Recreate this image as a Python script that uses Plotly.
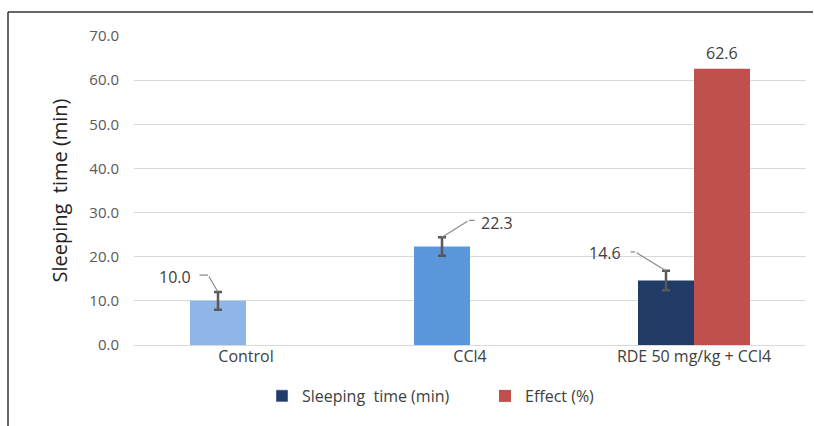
import plotly.graph_objects as go

categories = ["Control", "CCl4", "RDE 50 mg/kg + CCl4"]
sleep_values = [10.0, 22.3, 14.6]
sleep_errors = [2.0, 2.1, 2.2]
effect_values = [None, None, 62.6]
sleep_colors = ["#8EB6E6", "#5A97DA", "#1F3B66"]
effect_color = "#C0504D"
y_ticks = [0, 10, 20, 30, 40, 50, 60, 70]

FONT = "Open Sans"
TXT = "#404040"

fig = go.Figure()
fig.add_trace(go.Bar(
    x=categories, y=sleep_values, name="Sleeping\u00a0 time (min)",
    marker=dict(color=sleep_colors, line=dict(width=0)),
    error_y=dict(type="data", array=sleep_errors, visible=True,
                 color="#595959", thickness=2.5, width=4),
    offsetgroup="s", showlegend=False,
))
# legend entry for sleeping time (navy swatch)
fig.add_trace(go.Bar(
    x=[categories[0]], y=[None], name="Sleeping\u00a0 time (min)",
    marker=dict(color=sleep_colors[2]), offsetgroup="s", showlegend=True,
))
fig.add_trace(go.Bar(
    x=categories, y=effect_values, name="Effect (%)",
    marker=dict(color=effect_color, line=dict(width=0)),
    offsetgroup="e",
))

# value label above effect bar
for cat, v in zip(categories, effect_values):
    if v is not None:
        fig.add_annotation(x=cat, y=v, xref="x", yref="y", xshift=28, yshift=3,
                           text=f"{v:.1f}", showarrow=False, yanchor="bottom",
                           font=dict(family=FONT, size=16, color=TXT))

# leader-line labels: (text dx, text dy, anchor, kink dx, kink dy, end dx)
label_style = [
    (-25, -15, "right", -10, -17, -20),
    (37, -14, "left", 27, -17, 34),
    (-43, -18, "right", -31, -19, -37),
]
bar_shift = -28
line_col = "#8C8C8C"
for cat, v, e, (tdx, tdy, anc, kdx, kdy, edx) in zip(categories, sleep_values, sleep_errors, label_style):
    top = v + e
    fig.add_annotation(x=cat, y=top, xref="x", yref="y", xshift=bar_shift,
                       text="", showarrow=True, arrowhead=0, arrowwidth=1.2,
                       arrowcolor=line_col, ax=kdx, ay=kdy, standoff=0)
    fig.add_annotation(x=cat, y=top, xref="x", yref="y", xshift=bar_shift + kdx,
                       yshift=-kdy, text="", showarrow=True, arrowhead=0,
                       arrowwidth=1.2, arrowcolor=line_col, ax=edx - kdx, ay=0,
                       standoff=0)
    fig.add_annotation(x=cat, y=top, xref="x", yref="y", xshift=bar_shift + tdx,
                       yshift=-tdy, text=f"{v:.1f}", showarrow=False,
                       xanchor=anc, yanchor="middle",
                       font=dict(family=FONT, size=16, color=TXT))

# outer frame lines (top and left)
W, H = 814, 426
l, r, t, b = 134, 8, 36, 81
pw, ph = W - l - r, H - t - b
def px(xp):
    return (xp - l) / pw
def py(yp):
    return (H - b - yp) / ph
fig.add_shape(type="line", xref="paper", yref="paper", x0=px(8), x1=px(813),
              y0=py(12), y1=py(12), line=dict(color="#333333", width=1.5))
fig.add_shape(type="line", xref="paper", yref="paper", x0=px(8), x1=px(8),
              y0=py(12), y1=py(430), line=dict(color="#333333", width=1.5))

fig.update_layout(
    width=W, height=H, margin=dict(l=l, r=r, t=t, b=b, autoexpand=False),
    paper_bgcolor="white", plot_bgcolor="white",
    barmode="group", bargap=0.5, bargroupgap=0,
    font=dict(family=FONT, color=TXT),
    showlegend=True,
    legend=dict(orientation="h", x=px(262), y=py(396), xanchor="left",
                yanchor="middle", font=dict(family=FONT, size=16, color=TXT),
                traceorder="normal", itemwidth=30, entrywidth=178),
    xaxis=dict(showgrid=False, showline=False, ticks="",
               tickfont=dict(family=FONT, size=16, color=TXT)),
    yaxis=dict(range=[0, 70], tickvals=y_ticks, tickformat=".1f",
               showgrid=True, gridcolor="#D9D9D9", gridwidth=1,
               zeroline=True, zerolinecolor="#D9D9D9", zerolinewidth=1,
               ticks="", ticklabelstandoff=14,
               tickfont=dict(family=FONT, size=15, color="#595959"),
               title=dict(text="Sleeping\u00a0 time (min)", standoff=16,
                          font=dict(family=FONT, size=20, color="#222222"))),
)

fig.write_html("out.html", config={"displayModeBar": False},
               post_script="document.body.style.margin='0';")
